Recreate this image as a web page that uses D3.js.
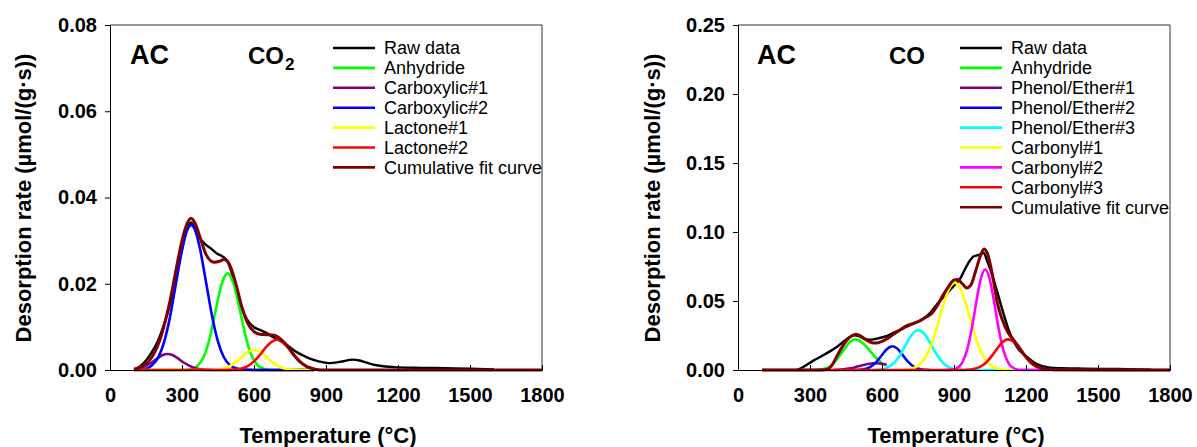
<!DOCTYPE html>
<html><head><meta charset="utf-8">
<script src="https://cdn.jsdelivr.net/npm/d3@7"></script>
<style>
body{margin:0;background:#fff;}
svg text{font-family:"Liberation Sans",Arial,sans-serif;}
</style></head>
<body><svg id="c" width="1197" height="447"></svg>
<script>
// ---------- shared ----------
const xTicks = [0, 300, 600, 900, 1200, 1500, 1800];
const xTitle = "Temperature (°C)";
const yTitle = "Desorption rate (µmol/(g·s))";

// ---------- CO2 panel ----------
const co2YTicks = [0, 0.02, 0.04, 0.06, 0.08];
const co2Labels = ["Raw data","Anhydride","Carboxylic#1","Carboxylic#2","Lactone#1","Lactone#2","Cumulative fit curve"];
const co2Raw = [[100,0],[125,0.0008],[150,0.0022],[175,0.0042],[200,0.0068],[225,0.0105],[250,0.0152],[275,0.0215],[300,0.028],[320,0.0325],[338,0.0342],[355,0.0328],[375,0.0305],[400,0.029],[420,0.0282],[445,0.027],[470,0.0263],[485,0.0255],[495,0.0245],[515,0.021],[540,0.016],[570,0.0118],[600,0.0099],[625,0.0093],[655,0.0085],[680,0.0076],[710,0.0068],[740,0.0057],[770,0.0044],[800,0.0035],[830,0.0027],[870,0.002],[910,0.0016],[960,0.0019],[1010,0.0024],[1040,0.0022],[1070,0.0017],[1110,0.0011],[1150,0.0008],[1200,0.0006],[1300,0.0005],[1400,0.0004],[1500,0.0003],[1600,0.0001]];
const co2Anhydride = [[100,0],[300,0],[340,0.00025],[365,0.001],[390,0.003],[415,0.0073],[440,0.0138],[465,0.0199],[490,0.0224],[515,0.0200],[540,0.0142],[565,0.0078],[590,0.0033],[615,0.0011],[640,0.0003],[670,0],[850,0]];
const co2Carboxylic1 = [[100,0.00014],[125,0.0004],[150,0.001],[175,0.0018],[200,0.0028],[220,0.0035],[240,0.0037],[260,0.0035],[280,0.0028],[305,0.0018],[330,0.001],[355,0.0004],[380,0.00014],[410,0.00003],[450,0],[850,0]];
const co2Carboxylic2 = [[100,0],[150,0.0003],[175,0.0011],[200,0.0028],[225,0.0064],[250,0.0123],[275,0.0201],[300,0.0278],[320,0.0322],[338,0.0336],[355,0.0324],[375,0.0281],[400,0.0204],[425,0.0126],[450,0.0066],[475,0.0029],[500,0.0011],[525,0.0004],[560,0.0001],[600,0],[850,0]];
const co2Lactone1 = [[100,0],[420,0],[440,0.0001],[470,0.0003],[500,0.0009],[525,0.0019],[550,0.0031],[575,0.0042],[600,0.0047],[625,0.0042],[650,0.0031],[675,0.0019],[700,0.0009],[730,0.0003],[760,0.0001],[790,0],[850,0]];
const co2Lactone2 = [[100,0],[480,0],[500,0.00004],[540,0.00025],[570,0.0008],[600,0.002],[625,0.0035],[650,0.0053],[675,0.0066],[695,0.007],[715,0.0066],[740,0.0053],[765,0.0035],[790,0.002],[820,0.0008],[850,0.00025],[870,0]];
const co2Fit = [[100,0.0002],[125,0.0006],[150,0.0014],[175,0.003],[200,0.0058],[225,0.0102],[250,0.016],[275,0.0232],[300,0.030],[320,0.0338],[338,0.0352],[355,0.034],[375,0.0308],[400,0.0268],[420,0.0253],[437,0.025],[455,0.0252],[475,0.0256],[490,0.0252],[505,0.0235],[525,0.0199],[550,0.0145],[575,0.0107],[600,0.0089],[625,0.0083],[650,0.0082],[675,0.0081],[695,0.0078],[715,0.007],[740,0.0055],[765,0.0036],[790,0.002],[820,0.0008],[850,0.00025],[880,0],[1800,0]];

// ---------- CO panel ----------
const coYTicks = [0, 0.05, 0.10, 0.15, 0.20, 0.25];
const coLabels = ["Raw data","Anhydride","Phenol/Ether#1","Phenol/Ether#2","Phenol/Ether#3","Carbonyl#1","Carbonyl#2","Carbonyl#3","Cumulative fit curve"];
const coRaw = [[245,0],[270,0.002],[314,0.0068],[350,0.0102],[383,0.0135],[410,0.0165],[439,0.0205],[465,0.0238],[485,0.0252],[505,0.0245],[525,0.0228],[545,0.022],[565,0.0222],[590,0.0232],[619,0.0245],[650,0.0272],[689,0.0302],[720,0.0328],[745,0.0348],[770,0.037],[800,0.0412],[830,0.0478],[855,0.0525],[883,0.058],[905,0.062],[925,0.066],[940,0.071],[953,0.0755],[967,0.0795],[981,0.0822],[1000,0.0832],[1015,0.0843],[1025,0.0848],[1036,0.080],[1057,0.070],[1078,0.058],[1106,0.041],[1133,0.0266],[1161,0.0169],[1203,0.0097],[1245,0.0043],[1300,0.0017],[1350,0.0013],[1440,0.001],[1580,0.0007],[1720,0.0003]];
const coAnhydride = [[330,0.0002],[360,0.0009],[390,0.0035],[420,0.0095],[445,0.0155],[467,0.0205],[487,0.0222],[507,0.0212],[530,0.0178],[555,0.0128],[580,0.008],[605,0.0043]];
const coPhenol1 = [[400,0.0001],[430,0.0004],[460,0.001],[490,0.0021],[515,0.0032],[540,0.0043],[565,0.0049],[590,0.0047],[620,0.0038]];
const coPhenol2 = [[480,0],[520,0.0004],[550,0.002],[575,0.0055],[600,0.0109],[620,0.0151],[643,0.0172],[665,0.0153],[685,0.0111],[710,0.0057],[735,0.0021],[765,0.0004],[800,0]];
const coPhenol3 = [[560,0],[580,0.0002],[610,0.001],[640,0.0036],[670,0.0095],[700,0.0186],[725,0.0257],[752,0.029],[780,0.0255],[805,0.0182],[835,0.0093],[865,0.0035],[895,0.001],[925,0.0002],[960,0],[1100,0]];
const coCarbonyl1 = [[680,0],[700,0.0003],[740,0.002],[770,0.0063],[800,0.0159],[825,0.0287],[850,0.0439],[875,0.0572],[903,0.0633],[930,0.0576],[955,0.0445],[980,0.0293],[1005,0.0164],[1035,0.0066],[1065,0.0021],[1100,0.0004],[1140,0]];
const coCarbonyl2 = [[860,0],[880,0.0001],[910,0.0012],[935,0.0056],[955,0.0148],[975,0.0309],[995,0.0515],[1012,0.0664],[1030,0.0728],[1048,0.0664],[1065,0.0515],[1085,0.0309],[1105,0.0148],[1125,0.0056],[1150,0.0012],[1180,0.0001],[1300,0]];
const coCarbonyl3 = [[100,0],[930,0],[950,0.00013],[980,0.0007],[1010,0.0024],[1040,0.0065],[1065,0.012],[1090,0.0179],[1110,0.0213],[1126,0.0222],[1145,0.0209],[1165,0.0173],[1190,0.0113],[1215,0.006],[1240,0.0026],[1270,0.0007],[1300,0.00015],[1340,0],[1800,0]];
const coFit = [[100,0],[350,0],[370,0.0003],[390,0.003],[411,0.0097],[430,0.0155],[453,0.0215],[475,0.0248],[492,0.0259],[510,0.0248],[530,0.0222],[550,0.0203],[565,0.0196],[585,0.0198],[600,0.0208],[620,0.0225],[645,0.0255],[675,0.029],[700,0.0318],[731,0.0338],[760,0.0358],[786,0.0385],[810,0.0415],[830,0.0465],[850,0.053],[870,0.0585],[885,0.0625],[900,0.0652],[915,0.0655],[935,0.0625],[953,0.0595],[970,0.0615],[990,0.0715],[1010,0.0828],[1025,0.0877],[1040,0.0842],[1064,0.0652],[1080,0.049],[1099,0.0375],[1126,0.0268],[1150,0.0215],[1170,0.0168],[1203,0.0088],[1245,0.0028],[1290,0.0006],[1340,0.0001],[1800,0]];

const FONT = '"Liberation Sans",Arial,sans-serif';
const svg = d3.select("#c");

function panel(cfg){
  const x = d3.scaleLinear().domain([0,1800]).range([cfg.x0, cfg.x1]);
  const y = d3.scaleLinear().domain([0, cfg.yMax]).range([370, 25]);
  const g = svg.append("g");

  // series
  const line = d3.line().x(d=>x(d[0])).y(d=>y(d[1])).curve(d3.curveMonotoneX);
  cfg.series.forEach((s,i)=>{
    g.append("path").attr("d", line(s.data)).attr("fill","none")
      .attr("stroke", s.color).attr("stroke-width", s.w || 2.6)
      .attr("stroke-linejoin","round").attr("stroke-linecap","butt");
  });

  // frame top/right
  g.append("path").attr("d", `M${cfg.x0},25H${cfg.x1}V370`).attr("fill","none").attr("stroke","#333").attr("stroke-width",1);

  // y axis
  const ya = g.append("g").attr("transform",`translate(${cfg.x0},0)`)
    .call(d3.axisLeft(y).tickValues(cfg.yTicks).tickFormat(d3.format(".2f")).tickSize(5).tickPadding(8));
  ya.select(".domain").attr("stroke","#000");
  ya.selectAll(".tick line").attr("stroke","#000");
  ya.selectAll("text").attr("font-size",20).attr("font-weight","bold").attr("fill","#000").attr("font-family",FONT);

  // x axis (inward ticks)
  const xa = g.append("g").attr("transform","translate(0,370)")
    .call(d3.axisBottom(x).tickValues(xTicks).tickFormat(d3.format("d")).tickSize(-5).tickPadding(18));
  xa.select(".domain").attr("stroke","#000");
  xa.selectAll(".tick line").attr("stroke","#000");
  xa.selectAll("text").attr("font-size",20).attr("font-weight","bold").attr("fill","#000").attr("font-family",FONT);

  // titles
  g.append("text").attr("x",(cfg.x0+cfg.x1)/2 + 2).attr("y",443).attr("text-anchor","middle")
    .attr("font-size",22).attr("font-weight","bold").text(xTitle);
  g.append("text").attr("transform",`translate(${cfg.ytx},198) rotate(-90)`).attr("text-anchor","middle")
    .attr("font-size",22).attr("font-weight","bold").text(yTitle);

  // labels
  g.append("text").attr("x",cfg.acx).attr("y",64).attr("font-size",27).attr("font-weight","bold").text("AC");
  const gas = g.append("text").attr("x",cfg.gasx).attr("y",64).attr("font-size",24).attr("font-weight","bold");
  gas.append("tspan").text(cfg.gas);
  if(cfg.sub){ gas.append("tspan").attr("font-size",17).attr("dx",1).attr("dy",6).text(cfg.sub); }

  // legend
  const lg = g.append("g");
  cfg.series.forEach((s,i)=>{
    const yy = 48 + i*19.9;
    lg.append("line").attr("x1",cfg.lx).attr("x2",cfg.lx+42).attr("y1",yy).attr("y2",yy)
      .attr("stroke",s.color).attr("stroke-width",2.6);
    lg.append("text").attr("x",cfg.lx+51).attr("y",yy).attr("dy","0.36em").attr("font-size",18).text(cfg.labels[i]);
  });
}

panel({x0:110, x1:542, yMax:0.08, yTicks:co2YTicks, ytx:31, acx:130, gasx:248, gas:"CO", sub:"2", lx:333,
  labels:co2Labels,
  series:[
    {data:co2Raw, color:"#000000", w:2.4},
    {data:co2Anhydride, color:"#00ff00"},
    {data:co2Carboxylic1, color:"#800080"},
    {data:co2Carboxylic2, color:"#0000ff"},
    {data:co2Lactone1, color:"#ffff00"},
    {data:co2Lactone2, color:"#ff0000"},
    {data:co2Fit, color:"#800000", w:3}
  ]});

panel({x0:738, x1:1170, yMax:0.25, yTicks:coYTicks, ytx:660, acx:757, gasx:889, gas:"CO", sub:null, lx:960,
  labels:coLabels,
  series:[
    {data:coRaw, color:"#000000", w:2.4},
    {data:coAnhydride, color:"#00ff00"},
    {data:coPhenol1, color:"#800080"},
    {data:coPhenol2, color:"#0000ff"},
    {data:coPhenol3, color:"#00ffff"},
    {data:coCarbonyl1, color:"#ffff00"},
    {data:coCarbonyl2, color:"#ff00ff"},
    {data:coCarbonyl3, color:"#ff0000"},
    {data:coFit, color:"#800000", w:3}
  ]});
</script></body></html>
